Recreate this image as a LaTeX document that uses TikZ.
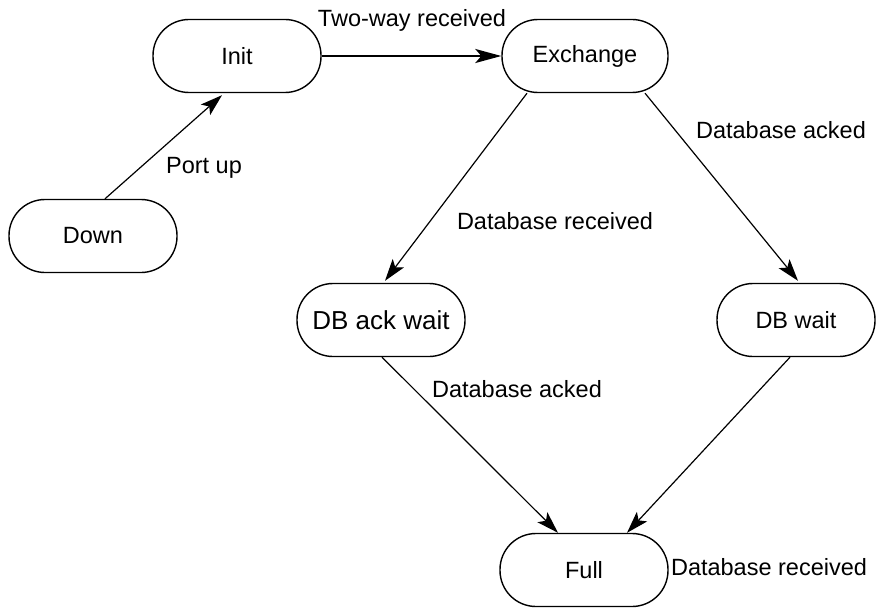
\documentclass[tikz,border=0pt]{standalone}
\usepackage{fontspec}
\setmainfont{Liberation Sans}
\usetikzlibrary{arrows.meta}

\begin{document}
\begin{tikzpicture}[
  x=0.5pt, y=-0.5pt,
  every node/.style={font=\fontsize{11.75}{14}\selectfont},
  state/.style={
    draw, line width=0.7pt, rounded corners=18pt,
    minimum width=84pt, minimum height=36.5pt, inner sep=0pt
  },
  trans/.style={-{Stealth[length=11pt,width=7pt,inset=2.5pt]}, line width=0.6pt},
  edgetext/.style={anchor=base}
]
\useasboundingbox (0,0) rectangle (877,610);

% States
\node[state] (init) at (237,56) {Init};
\node[state, minimum width=83pt] (exch) at (585,56) {Exchange};
\node[state] (down) at (93,236) {Down};
\node[state, font=\fontsize{13}{16}\selectfont] (dbackwait) at (381,320) {DB ack wait};
\node[state, minimum width=79pt] (dbwait) at (796,320) {DB wait};
\node[state] (full) at (584,570) {Full};

% Transitions
\draw[trans] ([xshift=6pt]down.north) -- ([xshift=-7.5pt,yshift=-1pt]init.south);
\draw[line width=1pt, -{Stealth[length=13pt,width=7pt,inset=3pt]}] (init) -- (exch);
\draw[trans] ([xshift=-29pt]exch.south) -- ([xshift=2pt,yshift=1pt]dbackwait.north);
\draw[trans] ([xshift=30pt]exch.south) -- ([xshift=1pt,yshift=1pt]dbwait.north);
\draw[trans] ([xshift=0.5pt]dbackwait.south) -- ([xshift=-13pt]full.north);
\draw[trans] ([xshift=-3pt]dbwait.south) -- ([xshift=21.5pt]full.north);

% Labels
\node[edgetext] (l1) at (412,27) {Two-way received};
\node[edgetext] (l2) at (204,173) {Port up};
\node[edgetext] (l3) at (555,229) {Database received};
\node[edgetext] (l4) at (781,138) {Database acked};
\node[edgetext] (l5) at (517,397) {Database acked};
\node[edgetext] (l6) at (769,575) {Database received};
\end{tikzpicture}
\end{document}
